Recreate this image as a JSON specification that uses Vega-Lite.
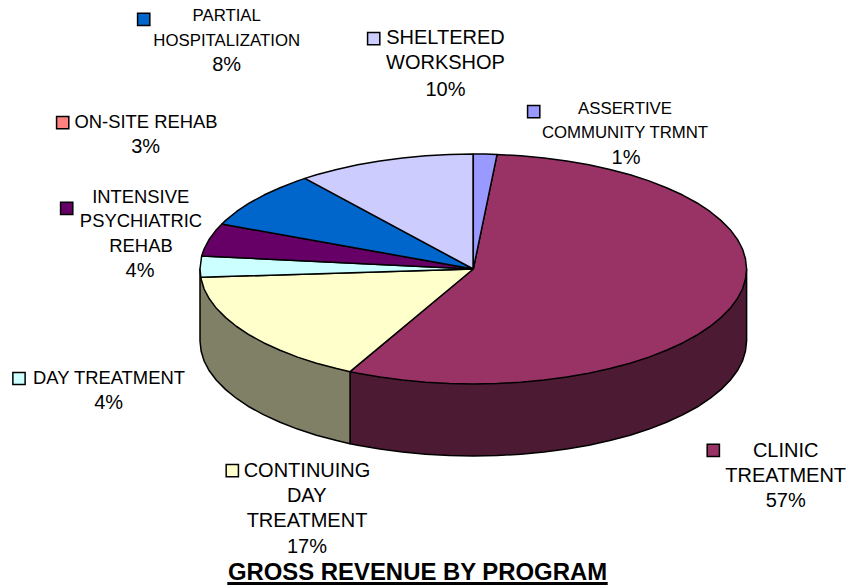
{"$schema":"https://vega.github.io/schema/vega-lite/v6.json","width":849,"height":585,"padding":0,"autosize":{"type":"none"},"background":"white","config":{"view":{"stroke":null}},
"datasets":{
"side":[
{"slice":"CLINIC TREATMENT","o":1,"x":1,"y":0},{"slice":"CLINIC TREATMENT","o":2,"x":1,"y":-0.626},{"slice":"CLINIC TREATMENT","o":3,"x":0.996,"y":-0.713},{"slice":"CLINIC TREATMENT","o":4,"x":0.985,"y":-0.8},{"slice":"CLINIC TREATMENT","o":5,"x":0.966,"y":-0.885},{"slice":"CLINIC TREATMENT","o":6,"x":0.94,"y":-0.968},{"slice":"CLINIC TREATMENT","o":7,"x":0.906,"y":-1.049},{"slice":"CLINIC TREATMENT","o":8,"x":0.866,"y":-1.126},{"slice":"CLINIC TREATMENT","o":9,"x":0.819,"y":-1.2},{"slice":"CLINIC TREATMENT","o":10,"x":0.766,"y":-1.269},{"slice":"CLINIC TREATMENT","o":11,"x":0.707,"y":-1.333},{"slice":"CLINIC TREATMENT","o":12,"x":0.643,"y":-1.392},{"slice":"CLINIC TREATMENT","o":13,"x":0.574,"y":-1.445},{"slice":"CLINIC TREATMENT","o":14,"x":0.5,"y":-1.492},{"slice":"CLINIC TREATMENT","o":15,"x":0.423,"y":-1.532},{"slice":"CLINIC TREATMENT","o":16,"x":0.342,"y":-1.566},{"slice":"CLINIC TREATMENT","o":17,"x":0.259,"y":-1.592},{"slice":"CLINIC TREATMENT","o":18,"x":0.174,"y":-1.611},{"slice":"CLINIC TREATMENT","o":19,"x":0.087,"y":-1.622},{"slice":"CLINIC TREATMENT","o":20,"x":0,"y":-1.626},{"slice":"CLINIC TREATMENT","o":21,"x":-0.087,"y":-1.622},{"slice":"CLINIC TREATMENT","o":22,"x":-0.174,"y":-1.611},{"slice":"CLINIC TREATMENT","o":23,"x":-0.259,"y":-1.592},{"slice":"CLINIC TREATMENT","o":24,"x":-0.342,"y":-1.566},{"slice":"CLINIC TREATMENT","o":25,"x":-0.423,"y":-1.532},{"slice":"CLINIC TREATMENT","o":26,"x":-0.451,"y":-1.519},{"slice":"CLINIC TREATMENT","o":27,"x":-0.451,"y":-0.893},{"slice":"CLINIC TREATMENT","o":28,"x":1,"y":0},
{"slice":"CONTINUING DAY TREATMENT","o":1,"x":-0.451,"y":-0.893},{"slice":"CONTINUING DAY TREATMENT","o":2,"x":-0.451,"y":-1.519},{"slice":"CONTINUING DAY TREATMENT","o":3,"x":-0.5,"y":-1.492},{"slice":"CONTINUING DAY TREATMENT","o":4,"x":-0.574,"y":-1.445},{"slice":"CONTINUING DAY TREATMENT","o":5,"x":-0.643,"y":-1.392},{"slice":"CONTINUING DAY TREATMENT","o":6,"x":-0.707,"y":-1.333},{"slice":"CONTINUING DAY TREATMENT","o":7,"x":-0.766,"y":-1.269},{"slice":"CONTINUING DAY TREATMENT","o":8,"x":-0.819,"y":-1.2},{"slice":"CONTINUING DAY TREATMENT","o":9,"x":-0.866,"y":-1.126},{"slice":"CONTINUING DAY TREATMENT","o":10,"x":-0.906,"y":-1.049},{"slice":"CONTINUING DAY TREATMENT","o":11,"x":-0.94,"y":-0.968},{"slice":"CONTINUING DAY TREATMENT","o":12,"x":-0.966,"y":-0.885},{"slice":"CONTINUING DAY TREATMENT","o":13,"x":-0.985,"y":-0.8},{"slice":"CONTINUING DAY TREATMENT","o":14,"x":-0.996,"y":-0.713},{"slice":"CONTINUING DAY TREATMENT","o":15,"x":-1,"y":-0.626},{"slice":"CONTINUING DAY TREATMENT","o":16,"x":-1,"y":0},{"slice":"CONTINUING DAY TREATMENT","o":17,"x":-0.451,"y":-0.893}
],
"top":[
{"slice":"CLINIC TREATMENT","o":1,"x":0,"y":0},{"slice":"CLINIC TREATMENT","o":2,"x":0.087,"y":0.996},{"slice":"CLINIC TREATMENT","o":3,"x":0.174,"y":0.985},{"slice":"CLINIC TREATMENT","o":4,"x":0.259,"y":0.966},{"slice":"CLINIC TREATMENT","o":5,"x":0.342,"y":0.94},{"slice":"CLINIC TREATMENT","o":6,"x":0.423,"y":0.906},{"slice":"CLINIC TREATMENT","o":7,"x":0.5,"y":0.866},{"slice":"CLINIC TREATMENT","o":8,"x":0.574,"y":0.819},{"slice":"CLINIC TREATMENT","o":9,"x":0.643,"y":0.766},{"slice":"CLINIC TREATMENT","o":10,"x":0.707,"y":0.707},{"slice":"CLINIC TREATMENT","o":11,"x":0.766,"y":0.643},{"slice":"CLINIC TREATMENT","o":12,"x":0.819,"y":0.574},{"slice":"CLINIC TREATMENT","o":13,"x":0.866,"y":0.5},{"slice":"CLINIC TREATMENT","o":14,"x":0.906,"y":0.423},{"slice":"CLINIC TREATMENT","o":15,"x":0.94,"y":0.342},{"slice":"CLINIC TREATMENT","o":16,"x":0.966,"y":0.259},{"slice":"CLINIC TREATMENT","o":17,"x":0.985,"y":0.174},{"slice":"CLINIC TREATMENT","o":18,"x":0.996,"y":0.087},{"slice":"CLINIC TREATMENT","o":19,"x":1,"y":0},{"slice":"CLINIC TREATMENT","o":20,"x":0.996,"y":-0.087},{"slice":"CLINIC TREATMENT","o":21,"x":0.985,"y":-0.174},{"slice":"CLINIC TREATMENT","o":22,"x":0.966,"y":-0.259},{"slice":"CLINIC TREATMENT","o":23,"x":0.94,"y":-0.342},{"slice":"CLINIC TREATMENT","o":24,"x":0.906,"y":-0.423},{"slice":"CLINIC TREATMENT","o":25,"x":0.866,"y":-0.5},{"slice":"CLINIC TREATMENT","o":26,"x":0.819,"y":-0.574},{"slice":"CLINIC TREATMENT","o":27,"x":0.766,"y":-0.643},{"slice":"CLINIC TREATMENT","o":28,"x":0.707,"y":-0.707},{"slice":"CLINIC TREATMENT","o":29,"x":0.643,"y":-0.766},{"slice":"CLINIC TREATMENT","o":30,"x":0.574,"y":-0.819},{"slice":"CLINIC TREATMENT","o":31,"x":0.5,"y":-0.866},{"slice":"CLINIC TREATMENT","o":32,"x":0.423,"y":-0.906},{"slice":"CLINIC TREATMENT","o":33,"x":0.342,"y":-0.94},{"slice":"CLINIC TREATMENT","o":34,"x":0.259,"y":-0.966},{"slice":"CLINIC TREATMENT","o":35,"x":0.174,"y":-0.985},{"slice":"CLINIC TREATMENT","o":36,"x":0.087,"y":-0.996},{"slice":"CLINIC TREATMENT","o":37,"x":0,"y":-1},{"slice":"CLINIC TREATMENT","o":38,"x":-0.087,"y":-0.996},{"slice":"CLINIC TREATMENT","o":39,"x":-0.174,"y":-0.985},{"slice":"CLINIC TREATMENT","o":40,"x":-0.259,"y":-0.966},{"slice":"CLINIC TREATMENT","o":41,"x":-0.342,"y":-0.94},{"slice":"CLINIC TREATMENT","o":42,"x":-0.423,"y":-0.906},{"slice":"CLINIC TREATMENT","o":43,"x":-0.451,"y":-0.893},{"slice":"CLINIC TREATMENT","o":44,"x":0,"y":0},
{"slice":"CONTINUING DAY TREATMENT","o":1,"x":0,"y":0},{"slice":"CONTINUING DAY TREATMENT","o":2,"x":-0.451,"y":-0.893},{"slice":"CONTINUING DAY TREATMENT","o":3,"x":-0.5,"y":-0.866},{"slice":"CONTINUING DAY TREATMENT","o":4,"x":-0.574,"y":-0.819},{"slice":"CONTINUING DAY TREATMENT","o":5,"x":-0.643,"y":-0.766},{"slice":"CONTINUING DAY TREATMENT","o":6,"x":-0.707,"y":-0.707},{"slice":"CONTINUING DAY TREATMENT","o":7,"x":-0.766,"y":-0.643},{"slice":"CONTINUING DAY TREATMENT","o":8,"x":-0.819,"y":-0.574},{"slice":"CONTINUING DAY TREATMENT","o":9,"x":-0.866,"y":-0.5},{"slice":"CONTINUING DAY TREATMENT","o":10,"x":-0.906,"y":-0.423},{"slice":"CONTINUING DAY TREATMENT","o":11,"x":-0.94,"y":-0.342},{"slice":"CONTINUING DAY TREATMENT","o":12,"x":-0.966,"y":-0.259},{"slice":"CONTINUING DAY TREATMENT","o":13,"x":-0.985,"y":-0.174},{"slice":"CONTINUING DAY TREATMENT","o":14,"x":-0.996,"y":-0.087},{"slice":"CONTINUING DAY TREATMENT","o":15,"x":-0.997,"y":-0.072},{"slice":"CONTINUING DAY TREATMENT","o":16,"x":0,"y":0},
{"slice":"DAY TREATMENT","o":1,"x":0,"y":0},{"slice":"DAY TREATMENT","o":2,"x":-0.997,"y":-0.072},{"slice":"DAY TREATMENT","o":3,"x":-1,"y":0},{"slice":"DAY TREATMENT","o":4,"x":-0.994,"y":0.113},{"slice":"DAY TREATMENT","o":5,"x":0,"y":0},
{"slice":"INTENSIVE PSYCHIATRIC REHAB","o":1,"x":0,"y":0},{"slice":"INTENSIVE PSYCHIATRIC REHAB","o":2,"x":-0.994,"y":0.113},{"slice":"INTENSIVE PSYCHIATRIC REHAB","o":3,"x":-0.985,"y":0.174},{"slice":"INTENSIVE PSYCHIATRIC REHAB","o":4,"x":-0.966,"y":0.259},{"slice":"INTENSIVE PSYCHIATRIC REHAB","o":5,"x":-0.94,"y":0.342},{"slice":"INTENSIVE PSYCHIATRIC REHAB","o":6,"x":-0.92,"y":0.391},{"slice":"INTENSIVE PSYCHIATRIC REHAB","o":7,"x":0,"y":0},
{"slice":"PARTIAL HOSPITALIZATION","o":1,"x":0,"y":0},{"slice":"PARTIAL HOSPITALIZATION","o":2,"x":-0.92,"y":0.391},{"slice":"PARTIAL HOSPITALIZATION","o":3,"x":-0.906,"y":0.423},{"slice":"PARTIAL HOSPITALIZATION","o":4,"x":-0.866,"y":0.5},{"slice":"PARTIAL HOSPITALIZATION","o":5,"x":-0.819,"y":0.574},{"slice":"PARTIAL HOSPITALIZATION","o":6,"x":-0.766,"y":0.643},{"slice":"PARTIAL HOSPITALIZATION","o":7,"x":-0.707,"y":0.707},{"slice":"PARTIAL HOSPITALIZATION","o":8,"x":-0.643,"y":0.766},{"slice":"PARTIAL HOSPITALIZATION","o":9,"x":-0.616,"y":0.788},{"slice":"PARTIAL HOSPITALIZATION","o":10,"x":0,"y":0},
{"slice":"SHELTERED WORKSHOP","o":1,"x":0,"y":0},{"slice":"SHELTERED WORKSHOP","o":2,"x":-0.616,"y":0.788},{"slice":"SHELTERED WORKSHOP","o":3,"x":-0.574,"y":0.819},{"slice":"SHELTERED WORKSHOP","o":4,"x":-0.5,"y":0.866},{"slice":"SHELTERED WORKSHOP","o":5,"x":-0.423,"y":0.906},{"slice":"SHELTERED WORKSHOP","o":6,"x":-0.342,"y":0.94},{"slice":"SHELTERED WORKSHOP","o":7,"x":-0.259,"y":0.966},{"slice":"SHELTERED WORKSHOP","o":8,"x":-0.174,"y":0.985},{"slice":"SHELTERED WORKSHOP","o":9,"x":-0.087,"y":0.996},{"slice":"SHELTERED WORKSHOP","o":10,"x":0,"y":1},{"slice":"SHELTERED WORKSHOP","o":11,"x":0,"y":0},
{"slice":"ASSERTIVE COMMUNITY TRMNT","o":1,"x":0,"y":0},{"slice":"ASSERTIVE COMMUNITY TRMNT","o":2,"x":0,"y":1},{"slice":"ASSERTIVE COMMUNITY TRMNT","o":3,"x":0.044,"y":0.999},{"slice":"ASSERTIVE COMMUNITY TRMNT","o":4,"x":0.087,"y":0.996},{"slice":"ASSERTIVE COMMUNITY TRMNT","o":5,"x":0,"y":0}
],
"labels":[
{"t":"PARTIAL","px":226.7,"py":21,"tier":"small"},{"t":"HOSPITALIZATION","px":226.7,"py":45.7,"tier":"small"},{"t":"8%","px":226.7,"py":70.7,"tier":"large"},
{"t":"SHELTERED","px":445.5,"py":44,"tier":"large"},{"t":"WORKSHOP","px":445.5,"py":69,"tier":"large"},{"t":"10%","px":445.5,"py":96,"tier":"large"},
{"t":"ASSERTIVE","px":625,"py":114,"tier":"small"},{"t":"COMMUNITY TRMNT","px":625,"py":138.3,"tier":"small"},{"t":"1%","px":626,"py":164,"tier":"large"},
{"t":"ON-SITE REHAB","px":146,"py":128,"tier":"medium"},{"t":"3%","px":145.7,"py":153.3,"tier":"large"},
{"t":"INTENSIVE","px":140.7,"py":203.3,"tier":"medium"},{"t":"PSYCHIATRIC","px":141,"py":226.7,"tier":"medium"},{"t":"REHAB","px":141,"py":251.7,"tier":"medium"},{"t":"4%","px":140,"py":276.7,"tier":"large"},
{"t":"DAY TREATMENT","px":109,"py":384.3,"tier":"medium"},{"t":"4%","px":108.7,"py":409.3,"tier":"large"},
{"t":"CONTINUING","px":307,"py":476.7,"tier":"large"},{"t":"DAY","px":306.7,"py":502.3,"tier":"large"},{"t":"TREATMENT","px":307,"py":526.7,"tier":"large"},{"t":"17%","px":307,"py":553.3,"tier":"large"},
{"t":"CLINIC","px":785.7,"py":456.7,"tier":"large"},{"t":"TREATMENT","px":785.7,"py":481.7,"tier":"large"},{"t":"57%","px":785.7,"py":506.7,"tier":"large"}
],
"swatches":[
{"slice":"PARTIAL HOSPITALIZATION","px":143.7,"py":19.3},{"slice":"SHELTERED WORKSHOP","px":373.7,"py":38.7},{"slice":"ASSERTIVE COMMUNITY TRMNT","px":533.7,"py":111.7},{"slice":"ON-SITE REHAB","px":62.7,"py":122.7},{"slice":"INTENSIVE PSYCHIATRIC REHAB","px":66.7,"py":208.3},{"slice":"DAY TREATMENT","px":19,"py":378.5},{"slice":"CONTINUING DAY TREATMENT","px":232.3,"py":470.7},{"slice":"CLINIC TREATMENT","px":713.3,"py":450.3}
],
"heading":[{"t":"GROSS REVENUE BY PROGRAM","px":417.5,"py":579.5,"x1":227.3,"x2":607.7,"uy":583.5}]
},
"resolve":{"scale":{"x":"independent","y":"independent","fill":"independent"}},
"layer":[
{"data":{"name":"side"},"mark":{"type":"line","stroke":"black","strokeWidth":1.5,"strokeJoin":"round","interpolate":"linear"},
"encoding":{"x":{"field":"x","type":"quantitative","axis":null,"scale":{"domain":[-1.7318,1.3747],"nice":false,"zero":false}},"y":{"field":"y","type":"quantitative","axis":null,"scale":{"domain":[-2.7478,2.3391],"nice":false,"zero":false}},"order":{"field":"o","type":"quantitative"},"detail":{"field":"slice"},"fill":{"field":"slice","type":"nominal","legend":null,"scale":{"domain":["CLINIC TREATMENT","CONTINUING DAY TREATMENT"],"range":["#4d1a33","#808066"]}}}},
{"data":{"name":"top"},"mark":{"type":"line","stroke":"black","strokeWidth":1.5,"strokeJoin":"round","interpolate":"linear"},
"encoding":{"x":{"field":"x","type":"quantitative","axis":null,"scale":{"domain":[-1.7318,1.3747],"nice":false,"zero":false}},"y":{"field":"y","type":"quantitative","axis":null,"scale":{"domain":[-2.7478,2.3391],"nice":false,"zero":false}},"order":{"field":"o","type":"quantitative"},"detail":{"field":"slice"},"fill":{"field":"slice","type":"nominal","legend":null,"scale":{"domain":["CLINIC TREATMENT","CONTINUING DAY TREATMENT","DAY TREATMENT","INTENSIVE PSYCHIATRIC REHAB","PARTIAL HOSPITALIZATION","SHELTERED WORKSHOP","ASSERTIVE COMMUNITY TRMNT"],"range":["#993366","#ffffcc","#ccffff","#660066","#0066cc","#ccccff","#9999ff"]}}}},
{"data":{"name":"swatches"},"mark":{"type":"point","shape":"square","filled":true,"stroke":"black","strokeWidth":1.5,"opacity":1,"size":150},
"encoding":{"x":{"field":"px","type":"quantitative","axis":null,"scale":{"domain":[0,849],"nice":false,"zero":false}},"y":{"field":"py","type":"quantitative","axis":null,"scale":{"domain":[585,0],"nice":false,"zero":false}},"fill":{"field":"slice","type":"nominal","legend":null,"scale":{"domain":["CLINIC TREATMENT","CONTINUING DAY TREATMENT","DAY TREATMENT","INTENSIVE PSYCHIATRIC REHAB","ON-SITE REHAB","PARTIAL HOSPITALIZATION","SHELTERED WORKSHOP","ASSERTIVE COMMUNITY TRMNT"],"range":["#993366","#ffffcc","#ccffff","#660066","#ff8080","#0066cc","#ccccff","#9999ff"]}}}},
{"data":{"name":"labels"},"mark":{"type":"text","font":"Liberation Sans","align":"center","baseline":"alphabetic","color":"black"},
"encoding":{"x":{"field":"px","type":"quantitative","axis":null,"scale":{"domain":[0,849],"nice":false,"zero":false}},"y":{"field":"py","type":"quantitative","axis":null,"scale":{"domain":[585,0],"nice":false,"zero":false}},"text":{"field":"t"},"size":{"field":"tier","type":"nominal","legend":null,"scale":{"domain":["small","medium","large"],"range":[16.8,20,20.9]}}}},
{"data":{"name":"heading"},"mark":{"type":"text","font":"Liberation Sans","fontWeight":"bold","fontSize":23.9,"align":"center","baseline":"alphabetic","color":"black"},
"encoding":{"x":{"field":"px","type":"quantitative","axis":null,"scale":{"domain":[0,849],"nice":false,"zero":false}},"y":{"field":"py","type":"quantitative","axis":null,"scale":{"domain":[585,0],"nice":false,"zero":false}},"text":{"field":"t"}}},
{"data":{"name":"heading"},"mark":{"type":"rule","color":"black","strokeWidth":3},
"encoding":{"x":{"field":"x1","type":"quantitative","axis":null,"scale":{"domain":[0,849],"nice":false,"zero":false}},"x2":{"field":"x2"},"y":{"field":"uy","type":"quantitative","axis":null,"scale":{"domain":[585,0],"nice":false,"zero":false}}}}
]}
